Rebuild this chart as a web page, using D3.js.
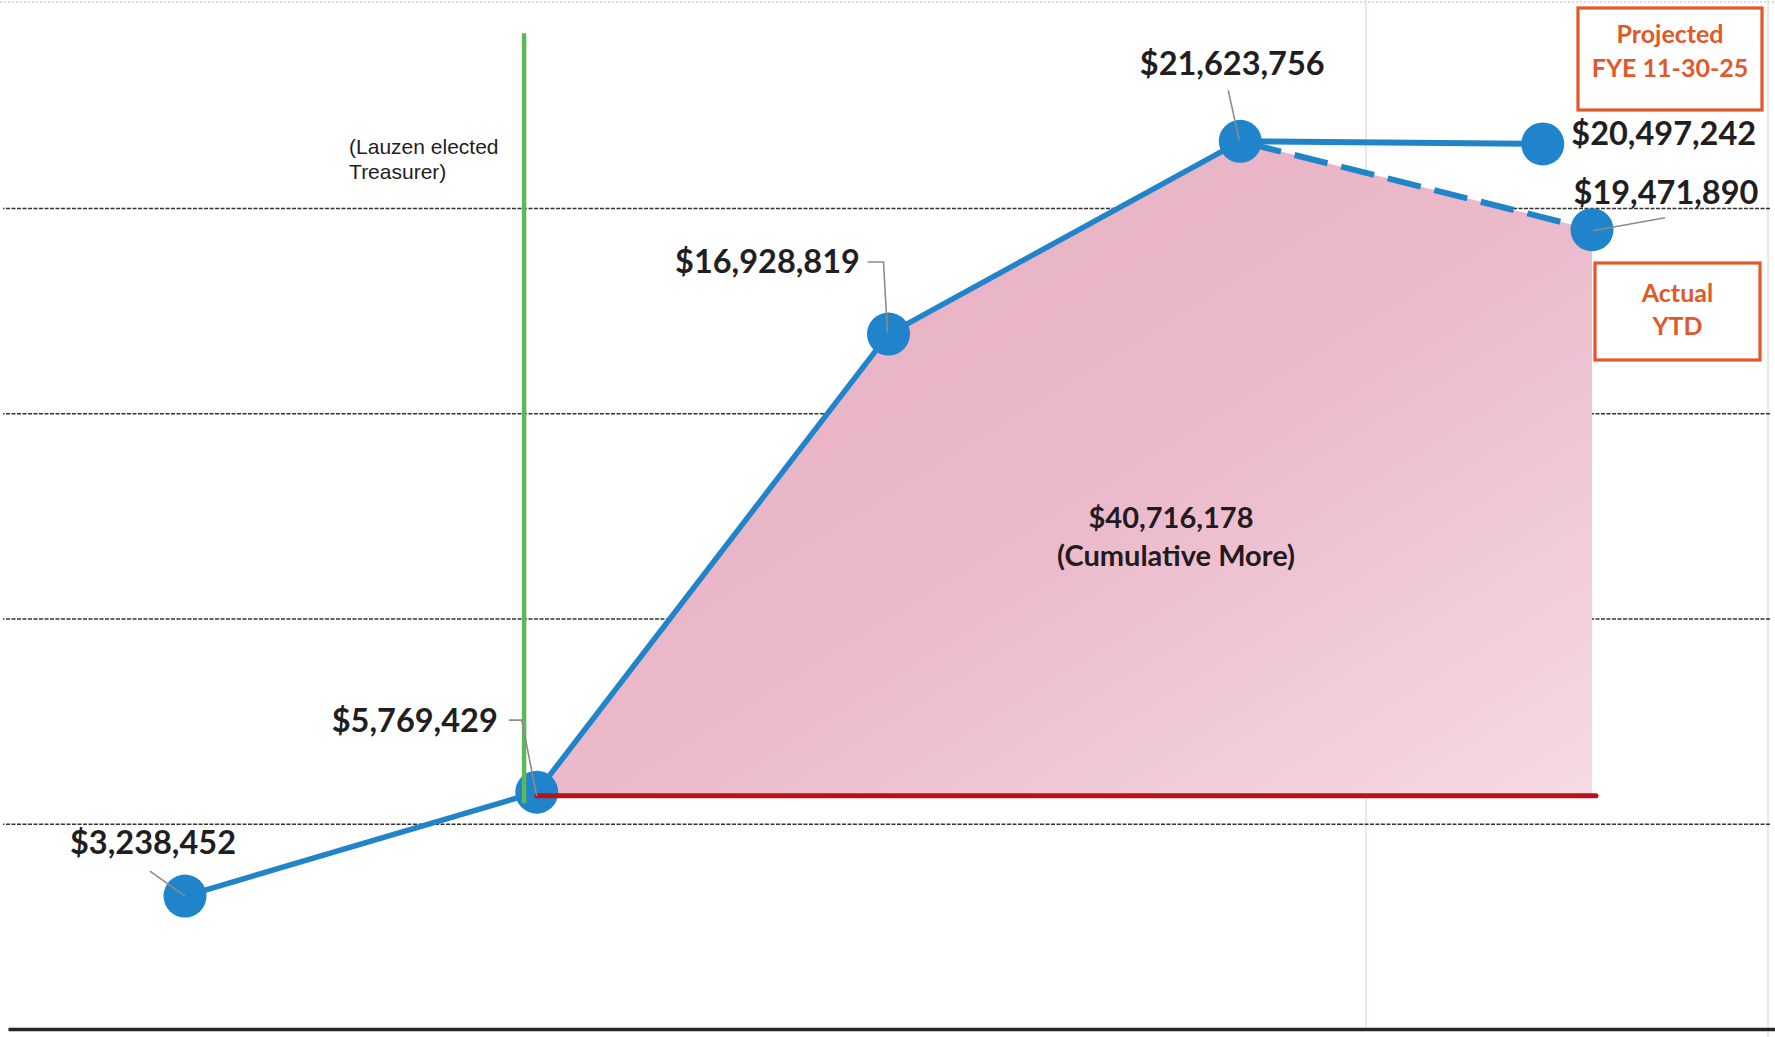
<!DOCTYPE html>
<html>
<head>
<meta charset="utf-8">
<script src="https://cdn.jsdelivr.net/npm/d3@7/dist/d3.min.js"></script>
<style>
  html, body { margin: 0; padding: 0; background: #ffffff; }
  svg { display: block; }
</style>
</head>
<body>
<svg id="chart" width="1775" height="1037"></svg>
<script>
// ---------------- DATA ----------------
const periodIndex = [0, 1, 2, 3, 4];
const actualValues = [3238452, 5769429, 16928819, 21623756, 19471890];
const projectedLabelValue = 20497242;      // printed value of the projection
const projectedPlotValue = 21560000;       // height at which the projection is drawn
const projectedPeriod = 3.86;              // horizontal placement of the projection
const baselineValue = 5680000;             // red "before" baseline
const cumulativeMore = 40716178;
const cumulativeText = "(Cumulative More)";
const gridValues = [5000000, 10000000, 15000000, 20000000];
const electionPeriod = 0.964;
const electionRange = [5500000, 24260000];
const electionText = ["(Lauzen elected", "Treasurer)"];
const projectedBoxText = ["Projected", "FYE 11-30-25"];
const actualBoxText = ["Actual", "YTD"];

// ---------------- LAYOUT ----------------
const W = 1775, H = 1037;
const svg = d3.select("#chart");
const x = d3.scaleLinear().domain([0, 4]).range([185, 1592]);
const y = d3.scaleLinear().domain([0, 25000000]).range([1029, 2.75]);
const money = d3.format("$,");

const blue = "#2284c8";
const orange = "#e2582a";
const labelFont = "Lato, 'Open Sans', sans-serif";
const labelSize = 32.5;

// defs: gradient for the pink area
const defs = svg.append("defs");
const grad = defs.append("linearGradient").attr("id", "pinkGrad")
  .attr("x1", "0").attr("y1", "0").attr("x2", "1").attr("y2", "1");
grad.append("stop").attr("offset", "0%").attr("stop-color", "#e5adbf");
grad.append("stop").attr("offset", "55%").attr("stop-color", "#ebbacb");
grad.append("stop").attr("offset", "100%").attr("stop-color", "#f5dae4");

// white background
svg.append("rect").attr("width", W).attr("height", H).attr("fill", "#ffffff");

// faint page border artifacts
svg.append("line").attr("x1", 0).attr("x2", W).attr("y1", 2).attr("y2", 2)
  .attr("stroke", "#d8d0d0").attr("stroke-width", 1.5).attr("stroke-dasharray", "2,2");
svg.append("line").attr("x1", 1768).attr("x2", 1768).attr("y1", 0).attr("y2", H)
  .attr("stroke", "#e2e0e0").attr("stroke-width", 1.5);
svg.append("line").attr("x1", 1366).attr("x2", 1366).attr("y1", 0).attr("y2", 1027)
  .attr("stroke", "#ecd0e2").attr("stroke-width", 1.2);

// gridlines through the axis generator
const grid = svg.append("g").attr("transform", "translate(1770,0)")
  .call(d3.axisLeft(y).tickValues(gridValues).tickSize(1767).tickFormat(""));
grid.select(".domain").remove();
grid.selectAll(".tick line").attr("stroke", "#333333").attr("stroke-width", 1.3)
  .attr("stroke-dasharray", "4,1.5");

// bottom axis line
const bottom = svg.append("g").attr("transform", `translate(0,${y(0)})`)
  .call(d3.axisBottom(d3.scaleLinear().domain([0, 1]).range([8, W])).ticks(0).tickSizeOuter(0));
bottom.select(".domain").attr("stroke", "#262626").attr("stroke-width", 3.5);

// pink cumulative area (from the election point onward)
const areaPts = periodIndex.slice(1).map(i => ({ i, v: actualValues[i] }));
const area = d3.area().x(d => x(d.i)).y0(y(baselineValue)).y1(d => y(d.v));
svg.append("path").datum(areaPts).attr("d", area).attr("fill", "url(#pinkGrad)");

// blue actual line (solid up to peak)
const line = d3.line().x(d => x(d.i)).y(d => y(d.v));
const solidPts = periodIndex.slice(0, 4).map(i => ({ i, v: actualValues[i] }));
svg.append("path").datum(solidPts).attr("d", line)
  .attr("fill", "none").attr("stroke", blue).attr("stroke-width", 5.5)
  .attr("stroke-linejoin", "round").attr("stroke-linecap", "round");

// dashed actual-YTD segment
svg.append("path").datum([{ i: 3, v: actualValues[3] }, { i: 4, v: actualValues[4] }])
  .attr("d", line).attr("fill", "none").attr("stroke", blue).attr("stroke-width", 6)
  .attr("stroke-dasharray", "34,14").attr("stroke-dashoffset", -8);

// projected segment
svg.append("path").datum([{ i: 3, v: actualValues[3] }, { i: projectedPeriod, v: projectedPlotValue }])
  .attr("d", line).attr("fill", "none").attr("stroke", blue).attr("stroke-width", 6);

// markers
const markers = periodIndex.map(i => ({ i, v: actualValues[i] }))
  .concat([{ i: projectedPeriod, v: projectedPlotValue }]);
svg.append("g").selectAll("circle").data(markers).join("circle")
  .attr("cx", d => x(d.i)).attr("cy", d => y(d.v)).attr("r", 21.5)
  .attr("fill", "#1f84cb");

// election marker (green line)
svg.append("line")
  .attr("x1", x(electionPeriod)).attr("x2", x(electionPeriod))
  .attr("y1", y(electionRange[1])).attr("y2", y(electionRange[0]))
  .attr("stroke", "#5cb85a").attr("stroke-width", 4.5);

// red baseline
svg.append("line")
  .attr("x1", x(1)).attr("x2", x(4) + 4)
  .attr("y1", y(baselineValue)).attr("y2", y(baselineValue))
  .attr("stroke", "#b8121c").attr("stroke-width", 5).attr("stroke-linecap", "round");

// election annotation
const ann = svg.append("text").attr("font-family", "'Liberation Sans', Arial, sans-serif")
  .attr("font-size", 21).attr("fill", "#1e1e1e");
electionText.forEach((t, k) => {
  ann.append("tspan").attr("x", x(electionPeriod) - 175).attr("y", 154 + k * 25).text(t);
});

// value labels with leader lines (offsets relative to the marker)
const labelLayout = [
  { dx: -32, dy: -42, leader: [[-35, -25], [0, 0]] },
  { dx: -122, dy: -60, leader: [[-28, -72], [-15, -72], [0, 4]] },
  { dx: -121, dy: -61, leader: [[-21, -72], [-5, -72], [-1, -1]] },
  { dx: -8, dy: -66, leader: [[-12, -51], [-1, -1]] },
  { dx: 74, dy: -26, leader: [[1, 1], [73, -12]] }
];
const leaderLine = d3.line();
periodIndex.forEach(i => {
  const px = x(i), py = y(actualValues[i]);
  const L = labelLayout[i];
  svg.append("path")
    .attr("d", leaderLine(L.leader.map(p => [px + p[0], py + p[1]])))
    .attr("fill", "none").attr("stroke", "#8c8c8c").attr("stroke-width", 1.6);
  svg.append("text").attr("x", px + L.dx).attr("y", py + L.dy)
    .attr("text-anchor", "middle")
    .attr("font-family", labelFont).attr("font-weight", 700).attr("font-size", labelSize)
    .attr("fill", "#221e1f").text(money(actualValues[i]));
});
// projected label
svg.append("text")
  .attr("x", x(projectedPeriod) + 121).attr("y", y(projectedPlotValue) + 1)
  .attr("text-anchor", "middle")
  .attr("font-family", labelFont).attr("font-weight", 700).attr("font-size", labelSize)
  .attr("fill", "#221e1f").text(money(projectedLabelValue));

// cumulative label in the area
const cum = svg.append("text").attr("text-anchor", "middle")
  .attr("font-family", labelFont).attr("font-weight", 700).attr("font-size", 29)
  .attr("fill", "#231a1e");
cum.append("tspan").attr("x", 1171).attr("y", 528).text(money(cumulativeMore));
cum.append("tspan").attr("x", 1176).attr("y", 566).text(cumulativeText);

// orange boxes
function orangeBox(x0, y0, w, h, lines, baselines) {
  svg.append("rect").attr("x", x0).attr("y", y0).attr("width", w).attr("height", h)
    .attr("fill", "#ffffff").attr("stroke", orange).attr("stroke-width", 3.2);
  const t = svg.append("text").attr("text-anchor", "middle")
    .attr("font-family", labelFont).attr("font-weight", 700).attr("font-size", 25)
    .attr("fill", orange);
  lines.forEach((s, k) => t.append("tspan").attr("x", x0 + w / 2).attr("y", baselines[k]).text(s));
}
orangeBox(1578, 8, 184, 102, projectedBoxText, [43, 77]);
orangeBox(1595, 263, 165, 97, actualBoxText, [302, 335]);
</script>
</body>
</html>
